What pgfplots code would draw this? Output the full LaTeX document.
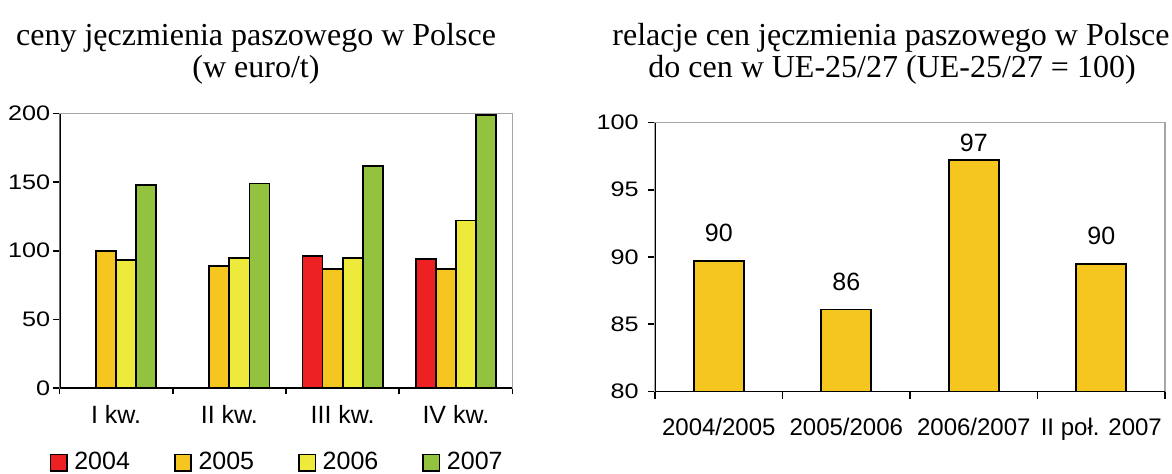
\documentclass[border=0pt]{standalone}
\usepackage{fontspec}
\setmainfont{Liberation Serif}
\newfontfamily\arial{Liberation Sans}
\newfontfamily\arialw[FakeStretch=1.2]{Liberation Sans}
\usepackage{pgfplots}
\pgfplotsset{compat=1.18}
\definecolor{cA}{RGB}{237,32,36}
\definecolor{cB}{RGB}{245,197,32}
\definecolor{cC}{RGB}{238,234,60}
\definecolor{cD}{RGB}{146,194,62}
\pgfplotsset{sq/.style={legend image code/.code={\draw[##1, line width=0.8pt] (0pt,-4.1pt) rectangle (8.2pt,4.1pt);}}}
\begin{document}
\begin{tikzpicture}
\useasboundingbox (0,0) rectangle (586pt,-236.5pt);
\begin{scope}[every node/.style={font=\fontsize{16}{19}\selectfont, anchor=base, inner sep=0pt}]
\node at (128pt,-22.75pt) {ceny jęczmienia paszowego w Polsce};
\node at (128pt,-38.75pt) {(w euro/t)};
\node at (445.5pt,-22.75pt) {relacje cen jęczmienia paszowego w Polsce};
\node at (446pt,-38.75pt) {do cen w UE-25/27 (UE-25/27 = 100)};
\end{scope}

\begin{axis}[at={(29.75pt,-194pt)}, anchor=south west, scale only axis,
  width=226.5pt, height=137.25pt,
  xmin=-0.5, xmax=3.5, ymin=0, ymax=200,
  ytick={0,50,...,200},
  xtick={-0.5,0.5,1.5,2.5,3.5},
  xticklabels={I kw.,II kw.,III kw.,IV kw.,},
  xticklabel style={xshift=28.3pt, text height=9pt, text depth=0pt, inner sep=0pt, yshift=-5.75pt, font=\arial\fontsize{12.5}{15}\selectfont},
  yticklabel style={inner sep=1.5pt, font=\arialw\fontsize{10.5}{13}\selectfont},
  tick align=outside, tick pos=left, major tick length=3pt,
  axis line style={draw=gray!70, line width=0.8pt},
  tick style={black, line width=0.8pt},
  /pgf/number format/assume math mode=true,
  ybar, bar width=0.177,
  legend columns=4,
  legend style={at={(-0.0225,-0.2714)}, anchor=west, draw=none, inner sep=0pt,
    nodes={inner sep=0pt},
    font=\arial\fontsize{12.5}{15}\selectfont,
    /tikz/every odd column/.append style={column sep=3.3pt},
    /tikz/every even column/.append style={column sep=22pt}},
  legend cell align=left,
]
\addplot[sq, fill=cA, draw=black, line width=0.9pt, bar shift=-0.2655] coordinates {(2,96) (3,94)};
\addlegendentry{2004}
\addplot[sq, fill=cB, draw=black, line width=0.9pt, bar shift=-0.0885] coordinates {(0,100) (1,89) (2,87) (3,87)};
\addlegendentry{2005}
\addplot[sq, fill=cC, draw=black, line width=0.9pt, bar shift=0.0885] coordinates {(0,93) (1,95) (2,95) (3,122)};
\addlegendentry{2006}
\addplot[sq, fill=cD, draw=black, line width=0.9pt, bar shift=0.2655] coordinates {(0,148) (1,149) (2,162) (3,199)};
\addlegendentry{2007}
\draw[black, line width=1pt] (rel axis cs:0,1) -- (rel axis cs:0,0) -- (rel axis cs:1,0);
\end{axis}

\begin{axis}[at={(327.5pt,-195.75pt)}, anchor=south west, scale only axis,
  width=255pt, height=134.5pt,
  xmin=-0.5, xmax=3.5, ymin=80, ymax=100,
  ytick={80,85,...,100},
  xtick={-0.5,0.5,1.5,2.5,3.5},
  xticklabels={2004/2005,2005/2006,2006/2007,II poł. 2007,},
  xticklabel style={xshift=31.9pt, text height=9pt, text depth=0pt, inner sep=0pt, yshift=-9.2pt, font=\arial\fontsize{12}{14}\selectfont},
  yticklabel style={inner sep=4.5pt, font=\arialw\fontsize{10.5}{13}\selectfont},
  tick align=outside, tick pos=left, major tick length=3.5pt,
  axis line style={draw=gray!70, line width=0.8pt},
  tick style={black, line width=0.8pt},
  /pgf/number format/assume math mode=true,
  ybar, bar width=0.39,
  nodes near coords={\pgfplotspointmeta},
  point meta=explicit symbolic,
  nodes near coords style={font=\arial\fontsize{12.5}{15}\selectfont, anchor=south, inner sep=0pt, text height=9pt, text depth=0pt},
]
\addplot[fill=cB, draw=black, line width=0.9pt, bar shift=0, nodes near coords style={yshift=9.2pt}] coordinates {(0,89.7)[90] (1,86.1)[86] (3,89.5)[90]};
\addplot[fill=cB, draw=black, line width=0.9pt, bar shift=0, nodes near coords style={yshift=3.8pt}] coordinates {(2,97.2)[97]};
\draw[black, line width=1pt] (rel axis cs:0,1) -- (rel axis cs:0,0) -- (rel axis cs:1,0);
\end{axis}
\end{tikzpicture}
\end{document}
